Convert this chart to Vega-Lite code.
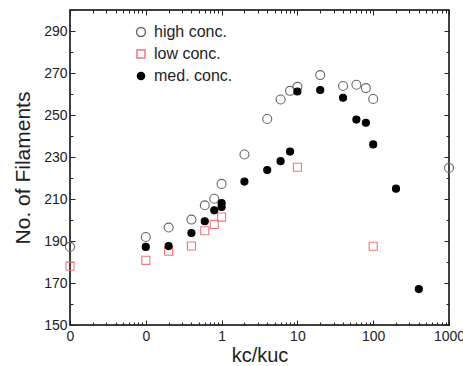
{
  "$schema": "https://vega.github.io/schema/vega-lite/v6.json",
  "width": 379,
  "height": 315,
  "autosize": "none",
  "padding": {"left": 70, "top": 10, "right": 14, "bottom": 41},
  "background": "white",
  "config": {
    "font": "Liberation Sans",
    "view": {"stroke": "black", "strokeWidth": 1.5},
    "axis": {"domain": false, "grid": false, "labelFont": "Liberation Sans", "titleFont": "Liberation Sans", "labelColor": "#222", "titleColor": "#222", "tickColor": "#222", "titleFontWeight": "normal"},
    "legend": {"labelFont": "Liberation Sans", "labelFontSize": 16, "labelColor": "#222", "rowPadding": 6, "labelOffset": 5, "padding": 0}
  },
  "data": {
    "values": [
      {"k": 0.01, "n": 187.2, "series": "high conc."},
      {"k": 0.1, "n": 191.9, "series": "high conc."},
      {"k": 0.2, "n": 196.4, "series": "high conc."},
      {"k": 0.4, "n": 200.2, "series": "high conc."},
      {"k": 0.6, "n": 207, "series": "high conc."},
      {"k": 0.8, "n": 210.1, "series": "high conc."},
      {"k": 1, "n": 217.2, "series": "high conc."},
      {"k": 2, "n": 231.2, "series": "high conc."},
      {"k": 4, "n": 248.1, "series": "high conc."},
      {"k": 6, "n": 257.4, "series": "high conc."},
      {"k": 8, "n": 261.5, "series": "high conc."},
      {"k": 10, "n": 263.4, "series": "high conc."},
      {"k": 20, "n": 269, "series": "high conc."},
      {"k": 40, "n": 263.8, "series": "high conc."},
      {"k": 60, "n": 264.4, "series": "high conc."},
      {"k": 80, "n": 262.8, "series": "high conc."},
      {"k": 100, "n": 257.6, "series": "high conc."},
      {"k": 1000, "n": 224.8, "series": "high conc."},
      {"k": 0.01, "n": 178, "series": "low conc."},
      {"k": 0.1, "n": 180.8, "series": "low conc."},
      {"k": 0.2, "n": 185.1, "series": "low conc."},
      {"k": 0.4, "n": 187.6, "series": "low conc."},
      {"k": 0.6, "n": 194.9, "series": "low conc."},
      {"k": 0.8, "n": 197.9, "series": "low conc."},
      {"k": 1, "n": 201.4, "series": "low conc."},
      {"k": 10, "n": 225.1, "series": "low conc."},
      {"k": 100, "n": 187.5, "series": "low conc."},
      {"k": 0.1, "n": 187.2, "series": "med. conc."},
      {"k": 0.2, "n": 187.6, "series": "med. conc."},
      {"k": 0.4, "n": 193.8, "series": "med. conc."},
      {"k": 0.6, "n": 199.4, "series": "med. conc."},
      {"k": 0.8, "n": 204.6, "series": "med. conc."},
      {"k": 1, "n": 208, "series": "med. conc."},
      {"k": 1, "n": 206.2, "series": "med. conc."},
      {"k": 2, "n": 218.3, "series": "med. conc."},
      {"k": 4, "n": 223.8, "series": "med. conc."},
      {"k": 6, "n": 228, "series": "med. conc."},
      {"k": 8, "n": 232.6, "series": "med. conc."},
      {"k": 10, "n": 261.2, "series": "med. conc."},
      {"k": 20, "n": 261.9, "series": "med. conc."},
      {"k": 40, "n": 258.2, "series": "med. conc."},
      {"k": 60, "n": 247.8, "series": "med. conc."},
      {"k": 80, "n": 246.3, "series": "med. conc."},
      {"k": 100, "n": 236, "series": "med. conc."},
      {"k": 200, "n": 214.9, "series": "med. conc."},
      {"k": 400, "n": 167.1, "series": "med. conc."}
    ]
  },
  "layer": [
    {
      "mark": {"type": "point", "strokeWidth": 1.1, "opacity": 1},
      "encoding": {
        "x": {
          "field": "k", "type": "quantitative",
          "scale": {"type": "log", "domain": [0.01, 1000], "nice": false},
          "axis": {
            "orient": "bottom",
            "title": "kc/kuc",
            "titleFontSize": 20,
            "titlePadding": 0,
            "labelFontSize": 14,
            "labelPadding": 9,
            "values": [0.01,0.02,0.03,0.04,0.05,0.06,0.07,0.08,0.09,0.1,0.2,0.3,0.4,0.5,0.6,0.7,0.8,0.9,1,2,3,4,5,6,7,8,9,10,20,30,40,50,60,70,80,90,100,200,300,400,500,600,700,800,900,1000],
            "labelExpr": "datum.value < 0.999 ? (abs(log(datum.value)/log(10) - round(log(datum.value)/log(10))) < 0.001 ? '0' : '') : (abs(log(datum.value)/log(10) - round(log(datum.value)/log(10))) < 0.001 ? format(datum.value, 'd') : '')",
            "labelOverlap": false,
            "labelFlush": false,
            "tickSize": {"condition": {"test": "abs(log(datum.value)/log(10) - round(log(datum.value)/log(10))) < 0.001", "value": -5}, "value": -3}
          }
        },
        "y": {
          "field": "n", "type": "quantitative",
          "scale": {"domain": [150, 300], "nice": false, "zero": false},
          "axis": {
            "orient": "left",
            "title": "No. of Filaments",
            "titleFontSize": 21,
            "titlePadding": 10,
            "labelFontSize": 14,
            "labelPadding": 8,
            "values": [150,160,170,180,190,200,210,220,230,240,250,260,270,280,290,300],
            "labelExpr": "(datum.value - 150) % 20 == 0 && datum.value < 300 ? datum.value : ''",
            "labelOverlap": false,
            "labelFlush": false,
            "tickSize": {"condition": {"test": "(datum.value - 150) % 20 == 0", "value": -5}, "value": -3}
          }
        },
        "shape": {
          "field": "series", "type": "nominal",
          "scale": {"domain": ["high conc.", "low conc.", "med. conc."], "range": ["circle", "square", "circle"]},
          "legend": {"orient": "none", "legendX": 63, "legendY": 14, "title": null}
        },
        "color": {
          "field": "series", "type": "nominal",
          "scale": {"domain": ["high conc.", "low conc.", "med. conc."], "range": ["#666666", "#f07878", "#000000"]},
          "legend": {"orient": "none", "legendX": 63, "legendY": 14, "title": null}
        },
        "fill": {
          "field": "series", "type": "nominal",
          "scale": {"domain": ["high conc.", "low conc.", "med. conc."], "range": ["transparent", "transparent", "#000000"]},
          "legend": {"orient": "none", "legendX": 63, "legendY": 14, "title": null}
        },
        "size": {
          "field": "series", "type": "nominal",
          "scale": {"domain": ["high conc.", "low conc.", "med. conc."], "range": [80, 50, 80]},
          "legend": null
        }
      }
    },
    {
      "mark": {"type": "point", "opacity": 0},
      "encoding": {
        "x": {
          "field": "k", "type": "quantitative",
          "axis": {
            "orient": "top",
            "title": null,
            "labels": false,
            "values": [0.01,0.02,0.03,0.04,0.05,0.06,0.07,0.08,0.09,0.1,0.2,0.3,0.4,0.5,0.6,0.7,0.8,0.9,1,2,3,4,5,6,7,8,9,10,20,30,40,50,60,70,80,90,100,200,300,400,500,600,700,800,900,1000],
            "tickSize": {"condition": {"test": "abs(log(datum.value)/log(10) - round(log(datum.value)/log(10))) < 0.001", "value": -5}, "value": -3}
          }
        },
        "y": {
          "field": "n", "type": "quantitative",
          "axis": {
            "orient": "right",
            "title": null,
            "labels": false,
            "values": [150,160,170,180,190,200,210,220,230,240,250,260,270,280,290,300],
            "tickSize": {"condition": {"test": "(datum.value - 150) % 20 == 0", "value": -5}, "value": -3}
          }
        }
      }
    }
  ],
  "resolve": {"axis": {"x": "independent", "y": "independent"}}
}
